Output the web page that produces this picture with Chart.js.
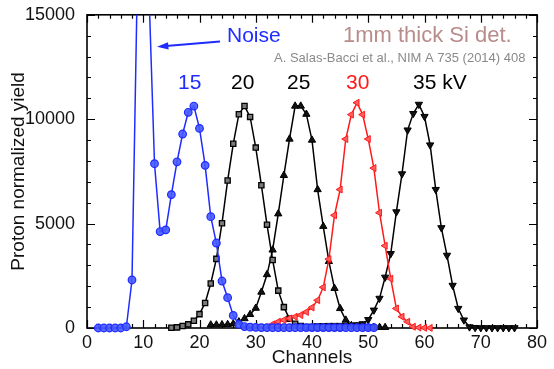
<!DOCTYPE html>
<html>
<head>
<meta charset="utf-8">
<script src="https://cdn.jsdelivr.net/npm/chart.js@4"></script>
<style>
  html, body { margin: 0; padding: 0; background: #fff; }
  canvas { display: block; }
</style>
</head>
<body>
<canvas id="grafico" width="554" height="369"></canvas>
<script>
// valores (canal, rendimento normalizado)
const canais15 = [2,3,4,5,6,7,8,9,10,11,12,13,14,15,16,17,18,19,20,21,22,23,24,25,26,27,28,29,30,31,32,33,34,35,36,37,38,39,40,41,42,43,44,45,46,47,48,49,50,51];
const yield15 = [0,0,0,0,0,60,2300,17400,26000,16200,7870,4620,4700,6390,7960,9290,10330,10630,9560,7790,5330,4070,2250,1450,600,170,70,40,30,20,20,20,20,20,20,20,20,20,20,20,20,20,20,20,20,20,20,20,20,20];

const canais20 = [15,16,17,18,19,20,21,22,23,24,25,26,27,28,29,30,31,32,33,34,35,36,37,38,39,40,41,42,43,44,45];
const yield20 = [15,30,95,175,350,665,1200,2130,3310,5020,7060,8820,10240,10630,10110,8640,6840,4950,3260,1790,1000,440,200,90,50,30,20,15,10,10,10];

const canais25 = [22,23,24,25,26,27,28,29,30,31,32,33,34,35,36,37,38,39,40,41,42,43,44,45,46,47,48,49,50,51,52,53];
const yield25 = [150,150,160,170,200,300,450,650,950,1720,2560,3740,5470,7310,9050,10630,10630,10240,9000,6630,4870,3190,1900,935,380,120,60,40,30,30,30,30];

const canais30 = [33,34,35,36,37,38,39,40,41,42,43,44,45,46,47,48,49,50,51,52,53,54,55,56,57,58,59,60,61];
const yield30 = [175,300,380,460,540,620,770,980,1330,1950,3300,5400,6630,9050,10220,10790,10220,9050,7660,5520,3940,2360,935,540,300,60,20,10,5];

const canais35 = [40,41,42,43,44,45,46,47,48,49,50,51,52,53,54,55,56,57,58,59,60,61,62,63,64,65,66,67,68,69,70,71,72,73,74,75,76];
const yield35 = [80,100,110,120,120,120,120,130,150,200,400,855,1420,2430,3560,5560,7380,9480,10270,10710,10130,8765,6630,4800,3480,2040,935,380,50,20,10,10,10,10,10,10,10];

const ticksX = [0, 10, 20, 30, 40, 50, 60, 70, 80];
const ticksY = [0, 5000, 10000, 15000];

const FONTE = "'Liberation Sans', Arial, sans-serif";
const AZUL = "#1f2bff";
const VERMELHO = "#ff1a1a";

const montarSerie = (canais, valores, estilo) => ({
  data: canais.map((c, i) => ({ x: c, y: valores[i] })),
  borderWidth: 1.5,
  tension: 0,
  clip: { left: 10, top: 0, right: 10, bottom: 10 },
  ...estilo,
});

// moldura com ticks para dentro nos quatro lados
const molduraPlugin = {
  id: "moldura",
  beforeDatasetsDraw(chart) {
    const { ctx, chartArea: a, scales } = chart;
    const sx = scales.x;
    const sy = scales.y;
    ctx.save();
    ctx.strokeStyle = "#000";
    ctx.lineWidth = 1.6;
    ctx.strokeRect(a.left, a.top, a.right - a.left, a.bottom - a.top);
    ctx.lineWidth = 1.2;
    ctx.beginPath();
    for (let v = 0; v <= 80; v += 2) {
      const px = Math.round(sx.getPixelForValue(v)) + 0.5;
      const len = v % 10 === 0 ? 8 : 4;
      ctx.moveTo(px, a.bottom);
      ctx.lineTo(px, a.bottom - len);
      ctx.moveTo(px, a.top);
      ctx.lineTo(px, a.top + len);
    }
    for (let v = 0; v <= 15000; v += 1000) {
      const py = Math.round(sy.getPixelForValue(v)) + 0.5;
      const len = v % 5000 === 0 ? 8 : 4;
      ctx.moveTo(a.left, py);
      ctx.lineTo(a.left + len, py);
      ctx.moveTo(a.right, py);
      ctx.lineTo(a.right - len, py);
    }
    ctx.stroke();
    ctx.restore();
  },
  afterDatasetsDraw(chart) {
    const { ctx } = chart;
    ctx.save();
    ctx.textBaseline = "middle";
    ctx.textAlign = "left";

    ctx.font = `21px ${FONTE}`;
    ctx.fillStyle = AZUL;
    ctx.fillText("Noise", 227, 36);

    // seta do ruído
    ctx.strokeStyle = AZUL;
    ctx.fillStyle = AZUL;
    ctx.lineWidth = 2;
    ctx.beginPath();
    ctx.moveTo(220, 41.5);
    ctx.lineTo(166, 46);
    ctx.stroke();
    ctx.beginPath();
    ctx.moveTo(157, 46.8);
    ctx.lineTo(168, 42.2);
    ctx.lineTo(168.6, 49.6);
    ctx.closePath();
    ctx.fill();

    ctx.font = `22px ${FONTE}`;
    ctx.fillStyle = "#b98c8c";
    ctx.fillText("1mm thick Si det.", 343, 36);

    ctx.font = `13px ${FONTE}`;
    ctx.fillStyle = "#8a8a8a";
    ctx.fillText("A. Salas-Bacci et al., NIM A 735 (2014) 408", 274, 58);

    ctx.font = `21px ${FONTE}`;
    ctx.fillStyle = AZUL;
    ctx.fillText("15", 178, 83);
    ctx.fillStyle = "#000";
    ctx.fillText("20", 231, 83);
    ctx.fillText("25", 287, 83);
    ctx.fillStyle = VERMELHO;
    ctx.fillText("30", 346, 83);
    ctx.fillStyle = "#000";
    ctx.fillText("35 kV", 413, 83);
    ctx.restore();
  },
};

const ctx = document.getElementById("grafico").getContext("2d");
new Chart(ctx, {
  type: "line",
  data: {
    datasets: [
      montarSerie(canais15, yield15, {
        label: "15 kV",
        borderColor: AZUL,
        pointStyle: "circle",
        pointRadius: 3.8,
        pointBorderWidth: 1.2,
        pointBorderColor: AZUL,
        pointBackgroundColor: "rgba(70,90,255,0.9)",
      }),
      montarSerie(canais30, yield30, {
        label: "30 kV",
        borderColor: VERMELHO,
        pointStyle: "triangle",
        pointRotation: -90,
        pointRadius: 4,
        pointBorderWidth: 1,
        pointBorderColor: VERMELHO,
        pointBackgroundColor: "#ff6060",
      }),
      montarSerie(canais20, yield20, {
        label: "20 kV",
        borderColor: "#000",
        pointStyle: "rect",
        pointRadius: 3.7,
        pointBorderWidth: 1.3,
        pointBorderColor: "#000",
        pointBackgroundColor: "#7a7a7a",
      }),
      montarSerie(canais25, yield25, {
        label: "25 kV",
        borderColor: "#000",
        pointStyle: "triangle",
        pointRadius: 4.2,
        pointBorderWidth: 1,
        pointBorderColor: "#000",
        pointBackgroundColor: "#111",
      }),
      montarSerie(canais35, yield35, {
        label: "35 kV",
        borderColor: "#000",
        pointStyle: "triangle",
        pointRotation: 180,
        pointRadius: 4.2,
        pointBorderWidth: 1,
        pointBorderColor: "#000",
        pointBackgroundColor: "#111",
      }),
    ],
  },
  options: {
    responsive: false,
    animation: false,
    devicePixelRatio: 1,
    layout: { padding: { top: 12, right: 17, left: 0, bottom: 0 } },
    plugins: { legend: { display: false }, tooltip: { enabled: false } },
    scales: {
      x: {
        type: "linear",
        min: 0,
        max: 80,
        grid: { display: false },
        border: { display: false },
        afterBuildTicks: (s) => { s.ticks = ticksX.map((v) => ({ value: v })); },
        afterFit: (s) => { s.height = 41; },
        ticks: { color: "#111", padding: -4, maxRotation: 0, font: { family: FONTE, size: 18 } },
        title: {
          display: true,
          text: "Channels",
          color: "#111",
          padding: { top: 0, bottom: 0 },
          font: { family: FONTE, size: 19 },
        },
      },
      y: {
        min: 0,
        max: 15000,
        grid: { display: false },
        border: { display: false },
        afterBuildTicks: (s) => { s.ticks = ticksY.map((v) => ({ value: v })); },
        afterFit: (s) => { s.width = 87; },
        ticks: { color: "#111", padding: 4, font: { family: FONTE, size: 18 }, callback: (v) => String(v) },
        title: {
          display: true,
          text: "Proton normalized yield",
          color: "#111",
          padding: { top: 7, bottom: 0 },
          font: { family: FONTE, size: 19 },
        },
      },
    },
  },
  plugins: [molduraPlugin],
});
</script>
</body>
</html>
